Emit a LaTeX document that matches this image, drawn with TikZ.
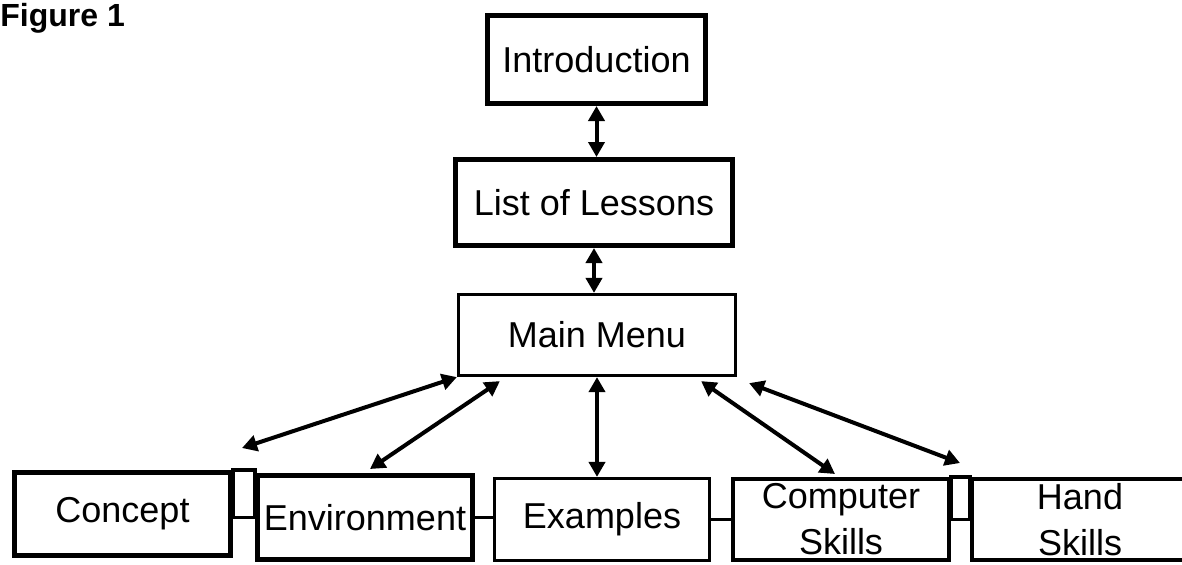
\documentclass[tikz,border=0pt]{standalone}
\usepackage{fontspec}
\setmainfont{Liberation Sans}
\usetikzlibrary{calc,arrows.meta}
\tikzset{
  box/.style={draw=black, line width=2pt, rectangle, inner sep=0pt, align=center,
    font=\fontsize{18}{23}\selectfont},
  heavy/.style={line width=2.5pt},
  light/.style={line width=1.6pt},
  link/.style={draw=black, line width=2pt,
    {Triangle[length=7.5pt,width=8pt]}-{Triangle[length=7.5pt,width=8pt]}},
  joint/.style={draw=black, line width=1.6pt},
  labf/.style={font=\bfseries\fontsize{16}{19}\selectfont, inner sep=0pt, anchor=north west}
}

\begin{document}
\begin{tikzpicture}[x=0.5pt, y=-0.5pt]
  \useasboundingbox (0,0) rectangle (1182,564);

  \node[labf] (figlabel) at (0,3) {Figure 1};

  % top column
  \node[box, heavy, minimum width=109pt, minimum height=44pt] (intro) at (596.5,59.5) {Introduction};
  \node[box, heavy, minimum width=138.5pt, minimum height=43pt] (lessons) at (594,202.5) {List of Lessons};
  \node[box, light, minimum width=138.5pt, minimum height=40.5pt] (mainmenu) at (597,335) {Main Menu};

  % bottom row
  \node[box, heavy, minimum width=108pt, minimum height=41.5pt] (concept) at (122.5,514) {Concept};
  \node[box, heavy, minimum width=107.5pt, minimum height=42pt] (environ) at (365,517.5) {Environment};
  \node[box, light, minimum width=107.5pt, minimum height=41pt] (examples) at (602,519.5) {Examples};
  \node[box, minimum width=108pt, minimum height=40.5pt] (computer) at (841,519.5) {Computer\\Skills};
  \node[box, minimum width=108pt, minimum height=40.5pt] (hand) at (1080,519.5) {Hand\\Skills};

  \draw[link] (intro.south) -- (intro.south |- lessons.north);
  \draw[link] (lessons.south) -- (lessons.south |- mainmenu.north);

  \draw[link] (mainmenu.south west) -- ($(concept.north east)+(9,-22)$);
  \draw[link] ($(mainmenu.south west)+(43,4)$) -- ($(environ.north)+(5,-4)$);
  \draw[link] (mainmenu.south) -- (mainmenu.south |- examples.north);
  \draw[link] ($(mainmenu.south east)+(-36,4)$) -- ($(computer.north)+(-6,-3)$);
  \draw[link] ($(mainmenu.south east)+(12,6)$) -- ($(hand.north west)+(-10,-14)$);

  % joins along the bottom row
  \draw[joint] (concept.north east) rectangle (environ.west);
  \draw[joint] (environ.east) -- (environ.east -| examples.west);
  \draw[joint] (examples.east) -- (computer.west);
  \draw[joint] (computer.north east) rectangle (hand.west);
\end{tikzpicture}
\end{document}
